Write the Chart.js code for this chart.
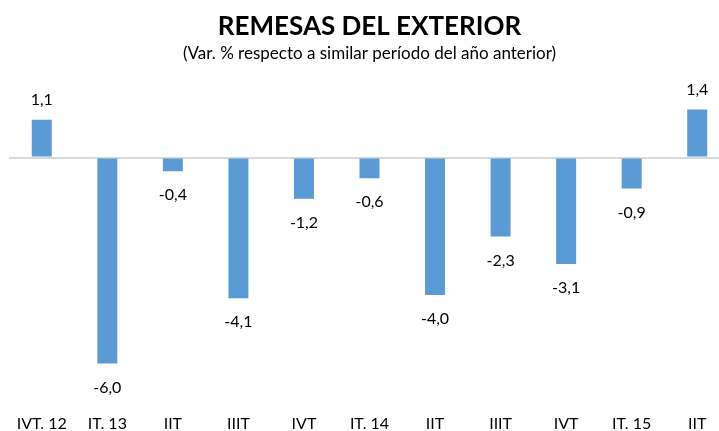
<!DOCTYPE html>
<html>
<head>
<meta charset="utf-8">
<script src="https://cdn.jsdelivr.net/npm/chart.js@4.4.1/dist/chart.umd.min.js"></script>
<style>
    html, body { margin: 0; padding: 0; background: #ffffff; overflow: hidden; }
    #wrap { width: 731px; height: 431px; position: relative; }
</style>
</head>
<body>
<div id="wrap"><canvas id="remesasChart"></canvas></div>
<script>
// ============================================================================
// REMESAS DEL EXTERIOR - quarterly variation bars
// ============================================================================

const quarterLabels = ['IVT. 12', 'IT. 13', 'IIT', 'IIIT', 'IVT', 'IT. 14', 'IIT', 'IIIT', 'IVT', 'IT. 15', 'IIT'];
const remesasVariation = [1.1, -6.0, -0.4, -4.1, -1.2, -0.6, -4.0, -2.3, -3.1, -0.9, 1.4];

const chartTitle = 'REMESAS DEL EXTERIOR';
const chartSubtitle = '(Var. % respecto a similar período del año anterior)';

const FONT_FAMILY = 'Lato, "Open Sans", sans-serif';
const BAR_COLOR = '#5B9BD5';

// value labels at the end of each bar, comma as decimal separator
const valueLabelPlugin = {
    id: 'valueLabels',
    afterDatasetsDraw(chart) {
        const { ctx } = chart;
        const meta = chart.getDatasetMeta(0);
        ctx.save();
        ctx.font = `16px ${FONT_FAMILY}`;
        ctx.fillStyle = '#000000';
        ctx.textAlign = 'center';
        ctx.textBaseline = 'middle';
        meta.data.forEach((bar, i) => {
            const v = remesasVariation[i];
            const text = v.toFixed(1).replace('.', ',');
            const y = v >= 0 ? bar.y - 20 : bar.y + 24;
            ctx.fillText(text, bar.x, y);
        });
        ctx.restore();
    }
};

function renderRemesasChart(canvasId) {
    const ctx = document.getElementById(canvasId)?.getContext('2d');
    if (!ctx) {
        console.warn(`Canvas with id '${canvasId}' not found`);
        return null;
    }

    const chartData = {
        labels: quarterLabels,
        datasets: [{
            label: 'Remesas',
            data: remesasVariation,
            backgroundColor: BAR_COLOR,
            borderWidth: 0,
            barPercentage: 0.305,
            categoryPercentage: 1.0
        }]
    };

    const options = {
        responsive: true,
        maintainAspectRatio: false,
        animation: false,
        layout: {
            padding: { left: 9, right: 1, top: 0, bottom: 0 }
        },
        plugins: {
            legend: { display: false },
            tooltip: { enabled: false },
            title: {
                display: true,
                text: chartTitle,
                color: '#000000',
                font: { family: FONT_FAMILY, size: 26, weight: 'bold' },
                padding: { top: 11, bottom: 0 }
            },
            subtitle: {
                display: true,
                text: chartSubtitle,
                color: '#000000',
                font: { family: FONT_FAMILY, size: 17 },
                padding: { top: 1, bottom: 39 }
            }
        },
        scales: {
            x: {
                grid: { display: false },
                border: { display: false },
                afterFit: (scale) => { scale.height = 41; },
                ticks: {
                    color: '#000000',
                    font: { family: FONT_FAMILY, size: 16 },
                    padding: 16,
                    maxRotation: 0,
                    autoSkip: false
                }
            },
            y: {
                min: -6.77,
                max: 1.6,
                ticks: { display: false, stepSize: 1 },
                border: { display: false },
                grid: {
                    drawTicks: false,
                    lineWidth: 2,
                    color: (c) => (c.tick && c.tick.value === 0 ? '#d9d9d9' : 'transparent')
                }
            }
        }
    };

    return new Chart(ctx, {
        type: 'bar',
        data: chartData,
        options: options,
        plugins: [valueLabelPlugin]
    });
}

renderRemesasChart('remesasChart');
</script>
</body>
</html>
